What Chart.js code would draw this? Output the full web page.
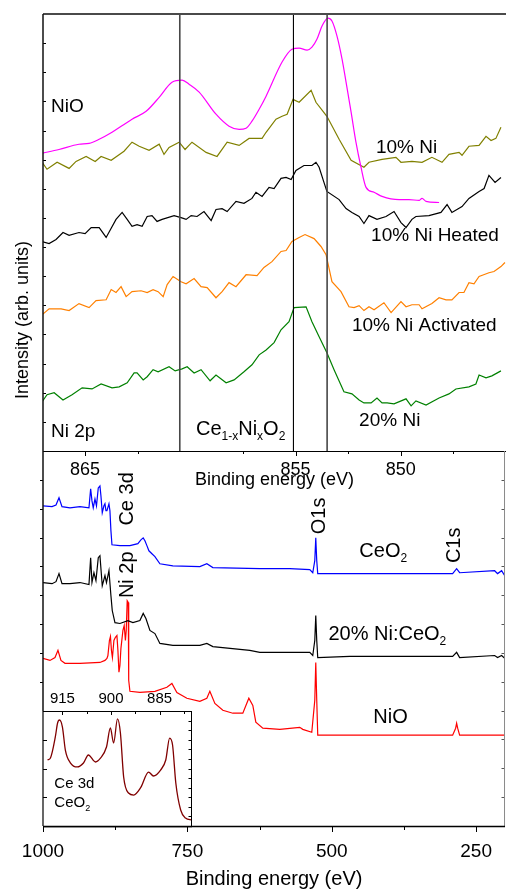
<!DOCTYPE html>
<html>
<head>
<meta charset="utf-8">
<title>Ni 2p and survey XPS spectra</title>
<script src="https://cdn.jsdelivr.net/npm/chart.js@4.4.1/dist/chart.umd.min.js"></script>
<style>
  html, body { margin: 0; padding: 0; background: #fff; overflow: hidden; }
  #wrap { position: relative; width: 506px; height: 892px; }
  canvas { position: absolute; left: 0; }
  #ni2p { top: 0; }
  #survey { top: 440px; }
  #inset { top: 680px; }
</style>
</head>
<body>
<div id="wrap">
  <canvas id="ni2p" width="506" height="500"></canvas>
  <canvas id="survey" width="506" height="452"></canvas>
  <canvas id="inset" width="200" height="150"></canvas>
</div>
<script>
// ---------- Ni 2p high-resolution spectra (binding energy in eV, intensity in arb. units, stacked) ----------
const nioBE = [867.04, 866.24, 865.29, 864.81, 864.33, 863.72, 863.15, 862.77, 862.10, 861.48, 860.87, 860.39, 860.06, 859.58, 858.78, 858.16, 857.68, 857.35, 857.07, 856.73, 856.40, 855.64, 855.17, 854.83, 854.45, 854.22, 853.98, 853.74, 853.46, 853.27, 853.03, 852.79, 852.60, 852.36, 852.13, 851.89, 851.65, 851.27, 850.89, 850.08, 849.61, 849.13, 848.99, 848.80, 848.18];
const nioI = [10.22, 10.35, 10.53, 10.56, 10.70, 10.94, 11.21, 11.39, 11.66, 12.14, 12.66, 12.73, 12.59, 12.32, 11.56, 11.15, 11.04, 11.08, 11.32, 11.73, 12.18, 13.35, 13.79, 13.83, 13.76, 13.86, 14.14, 14.59, 14.86, 14.76, 14.24, 13.45, 12.66, 11.63, 10.60, 9.74, 9.05, 8.88, 8.74, 8.63, 8.63, 8.60, 8.67, 8.57, 8.53];

const ni10BE = [867.04, 866.81, 866.33, 865.76, 865.43, 864.95, 864.52, 864.24, 863.76, 863.15, 862.77, 862.43, 861.96, 861.48, 861.25, 861.01, 860.53, 860.25, 859.92, 859.25, 858.73, 858.25, 857.68, 857.21, 856.59, 856.40, 855.93, 855.64, 855.40, 855.12, 854.83, 854.26, 854.03, 853.51, 852.93, 852.36, 851.75, 851.51, 850.89, 850.23, 849.99, 849.47, 848.99, 848.52, 848.04, 847.71, 847.23, 847.09, 846.76, 846.28, 845.95, 845.71, 845.48, 845.24];
const ni10I = [9.91, 9.67, 9.91, 9.70, 9.94, 10.11, 9.94, 10.11, 9.98, 10.29, 10.60, 10.46, 10.32, 10.53, 10.18, 10.42, 10.60, 10.35, 10.60, 10.25, 10.11, 10.60, 10.49, 10.73, 10.73, 10.94, 11.39, 11.49, 11.56, 12.07, 11.97, 12.38, 11.97, 11.49, 10.70, 9.98, 9.74, 9.91, 10.01, 10.08, 9.91, 9.94, 9.91, 10.08, 9.91, 10.18, 10.25, 10.15, 10.46, 10.49, 10.80, 10.66, 10.73, 11.11];

const ni10HeatBE = [867.04, 866.71, 866.38, 866.05, 865.76, 865.29, 865.00, 864.71, 864.33, 864.00, 863.53, 863.24, 863.00, 862.77, 862.53, 862.29, 862.05, 861.82, 861.58, 861.34, 860.77, 860.44, 860.20, 859.96, 859.68, 859.35, 859.01, 858.78, 858.49, 858.25, 857.83, 857.45, 857.07, 856.88, 856.59, 856.26, 856.02, 855.69, 855.45, 855.21, 854.98, 854.60, 854.22, 854.03, 853.88, 853.65, 853.51, 852.93, 852.60, 852.32, 851.98, 851.75, 851.51, 851.13, 850.70, 850.32, 849.99, 849.75, 849.47, 849.28, 848.66, 848.09, 847.80, 847.57, 847.09, 846.76, 846.28, 846.04, 845.81, 845.52, 845.24];
const ni10HeatI = [7.19, 7.12, 7.26, 7.50, 7.40, 7.50, 7.46, 7.67, 7.67, 7.33, 7.95, 8.19, 7.95, 7.71, 7.77, 7.71, 8.05, 8.08, 7.88, 7.95, 8.08, 8.01, 7.95, 8.08, 8.05, 8.22, 7.91, 8.29, 8.32, 8.22, 8.57, 8.50, 8.67, 8.88, 8.74, 9.05, 9.01, 9.36, 9.39, 9.32, 9.63, 9.80, 9.80, 9.91, 9.74, 9.22, 8.91, 8.63, 8.32, 8.19, 8.05, 7.81, 8.08, 7.95, 8.05, 8.22, 7.84, 7.67, 7.95, 8.05, 8.08, 8.19, 8.46, 8.19, 8.39, 8.67, 8.91, 9.01, 9.46, 9.22, 9.39];

const ni10ActBE = [867.04, 866.71, 866.14, 865.76, 865.29, 864.81, 864.48, 864.00, 863.76, 863.53, 863.29, 863.05, 862.77, 862.34, 862.05, 861.77, 861.53, 861.29, 861.10, 860.82, 860.44, 860.20, 859.82, 859.49, 859.20, 858.78, 858.49, 858.16, 857.83, 857.35, 856.83, 856.50, 856.12, 855.69, 855.45, 855.17, 854.83, 854.55, 854.12, 853.79, 853.55, 853.27, 852.84, 852.46, 852.22, 851.98, 851.75, 851.51, 851.27, 850.80, 850.46, 849.99, 849.75, 849.47, 849.13, 848.99, 848.52, 848.18, 847.85, 847.57, 847.23, 847.00, 846.76, 846.52, 846.28, 845.81, 845.57, 845.24, 845.05];
const ni10ActI = [4.68, 4.88, 4.88, 4.82, 5.06, 4.92, 5.16, 5.19, 5.54, 5.44, 5.64, 5.30, 5.47, 5.50, 5.44, 5.54, 5.47, 5.30, 5.71, 5.99, 5.81, 5.74, 5.92, 5.64, 5.61, 5.26, 5.47, 5.78, 5.64, 6.05, 6.02, 6.30, 6.50, 6.85, 6.88, 7.19, 7.33, 7.43, 7.29, 7.02, 6.74, 5.81, 5.47, 4.95, 4.92, 4.99, 4.82, 4.95, 4.85, 5.09, 4.75, 5.13, 4.95, 5.02, 5.02, 4.88, 5.06, 5.26, 5.19, 5.19, 5.44, 5.44, 5.78, 5.74, 5.99, 6.12, 6.16, 6.33, 6.47];

const ni20BE = [867.04, 866.81, 866.47, 866.05, 865.62, 865.14, 864.67, 864.24, 863.72, 863.38, 863.00, 862.67, 862.53, 862.24, 862.05, 861.77, 861.53, 861.01, 860.72, 860.39, 860.15, 859.82, 859.49, 859.06, 858.78, 858.30, 857.92, 857.45, 857.07, 856.73, 856.40, 856.02, 855.69, 855.31, 855.07, 854.50, 854.22, 853.88, 853.51, 853.17, 852.70, 852.32, 851.98, 851.75, 851.41, 851.13, 850.89, 850.65, 850.32, 849.75, 849.51, 849.28, 848.80, 848.18, 847.71, 847.38, 846.76, 846.43, 846.28, 845.95, 845.67, 845.24];
const ni20I = [1.69, 1.93, 2.00, 1.75, 1.93, 2.17, 2.13, 2.30, 2.17, 2.20, 2.34, 2.68, 2.68, 2.44, 2.55, 2.79, 2.72, 2.89, 2.75, 2.82, 2.89, 2.68, 2.79, 2.41, 2.61, 2.34, 2.44, 2.72, 2.96, 3.30, 3.47, 3.72, 4.16, 4.44, 4.92, 4.95, 4.44, 3.92, 3.37, 2.79, 2.03, 1.96, 1.75, 1.65, 1.65, 1.82, 1.65, 1.65, 1.62, 1.79, 1.55, 1.72, 1.58, 1.82, 1.96, 2.13, 2.20, 2.30, 2.61, 2.51, 2.58, 2.75];

// reference binding energies marked across the Ni 2p panel
const refLinesBE = [860.5, 855.1, 853.5];

// ---------- survey spectra ----------
const ceo2BE = [1000, 984.4, 977.5, 972.3, 967.1, 953.3, 936.0, 920.4, 917.5, 915.2, 913.0, 910.0, 907.4, 904.3, 901.4, 899.7, 897.4, 894.5, 892.7, 891.0, 889.3, 885.8, 884.1, 882.4, 880.6, 866.8, 849.5, 835.7, 830.5, 826.5, 823.5, 820.1, 816.6, 811.4, 806.2, 797.6, 775.1, 728.4, 716.3, 705.9, 624.6, 572.7, 538.1, 532.9, 529.4, 527.7, 526.0, 524.3, 468.9, 382.4, 290.7, 283.8, 278.6, 218.0, 212.9, 205.9, 200.5];
const ceo2I = [11.10, 11.07, 11.13, 11.38, 11.07, 11.03, 11.07, 11.03, 11.69, 11.27, 11.03, 11.34, 11.10, 11.72, 11.79, 11.45, 10.86, 11.10, 11.17, 10.93, 10.93, 11.17, 10.93, 10.24, 9.75, 9.72, 9.72, 9.79, 9.92, 9.99, 9.89, 9.72, 9.54, 9.44, 9.34, 9.09, 9.02, 8.99, 9.09, 8.96, 8.92, 8.92, 8.89, 8.78, 9.20, 9.99, 9.20, 8.75, 8.75, 8.75, 8.75, 8.92, 8.78, 8.85, 8.75, 8.85, 8.68];

const niCeo2BE = [1000, 984.4, 977.5, 972.3, 967.1, 953.3, 936.0, 920.4, 917.5, 915.2, 911.8, 908.3, 904.3, 901.4, 897.4, 892.7, 890.1, 885.8, 882.4, 880.1, 875.4, 866.8, 853.0, 844.3, 832.2, 826.5, 821.8, 814.9, 806.2, 797.6, 775.1, 728.4, 716.3, 705.9, 641.9, 624.6, 538.1, 532.9, 529.4, 527.7, 526.0, 524.3, 468.9, 382.4, 290.7, 283.8, 278.6, 218.0, 212.9, 205.9, 200.5];
const niCeo2I = [8.44, 8.40, 8.47, 8.75, 8.40, 8.40, 8.44, 8.37, 9.30, 8.44, 8.78, 8.51, 9.30, 9.37, 8.33, 8.68, 8.44, 8.85, 7.99, 7.47, 7.05, 7.02, 7.12, 7.05, 7.12, 7.37, 7.19, 6.78, 6.67, 6.33, 6.26, 6.26, 6.33, 6.22, 6.09, 6.02, 6.02, 5.91, 6.43, 7.30, 6.43, 5.84, 5.88, 5.88, 5.88, 6.02, 5.84, 5.91, 5.84, 5.91, 5.81];

const nioSurvBE = [1000, 987.9, 979.2, 974.1, 968.9, 961.9, 936.0, 901.4, 892.7, 889.3, 887.6, 885.0, 883.2, 881.5, 879.8, 877.2, 874.6, 872.0, 870.3, 868.5, 866.8, 865.1, 861.6, 859.4, 857.3, 855.9, 854.2, 852.4, 851.6, 849.5, 832.2, 806.2, 785.5, 776.8, 768.2, 750.9, 728.4, 716.3, 711.1, 702.4, 688.6, 671.3, 654.0, 643.6, 636.7, 631.5, 619.4, 589.9, 555.4, 550.2, 534.6, 529.4, 527.7, 526.0, 524.3, 468.9, 382.4, 290.7, 285.5, 283.8, 282.0, 278.6, 200.5];
const nioSurvI = [5.81, 5.74, 5.84, 6.09, 5.74, 5.64, 5.64, 5.67, 5.74, 5.81, 5.91, 6.43, 6.57, 6.09, 5.84, 6.43, 6.54, 6.60, 6.09, 5.33, 5.57, 6.15, 6.78, 6.95, 6.43, 6.78, 7.81, 7.75, 5.05, 4.67, 4.63, 4.67, 4.81, 4.94, 4.63, 4.43, 4.32, 4.43, 4.67, 4.25, 4.01, 3.91, 3.91, 4.43, 4.18, 3.60, 3.39, 3.35, 3.42, 3.35, 3.25, 4.36, 5.67, 4.36, 3.15, 3.15, 3.15, 3.15, 3.39, 3.56, 3.39, 3.15, 3.15];

// ---------- Ce 3d of CeO2 (inset) ----------
const ce3dBE = [919.6, 918.7, 917.2, 916.5, 915.9, 915.0, 914.1, 912.5, 910.4, 908.5, 907.0, 904.8, 903.2, 901.4, 900.2, 899.2, 898.0, 897.1, 896.1, 894.6, 893.0, 890.9, 888.4, 886.9, 884.7, 883.1, 881.9, 881.0, 880.0, 878.5, 877.0, 875.0];
const ce3dI = [6.89, 7.10, 9.29, 10.75, 11.06, 10.33, 7.93, 6.57, 6.16, 6.57, 7.41, 6.68, 7.10, 8.24, 10.23, 8.66, 11.17, 9.70, 5.11, 3.44, 3.23, 3.97, 5.63, 5.22, 5.84, 6.89, 9.18, 8.45, 4.49, 1.67, 0.83, 0.63];

// ---------- tick values ----------
const ni2pTickLabels = [865, 855, 850];
const ni2pMinorTicks = [862.5, 857.5, 852.5, 847.5];
const ni2pYTicks = [1, 2, 3, 4, 5, 6, 7, 8, 9, 10, 11, 12, 13, 14];
const surveyTickLabels = [1000, 750, 500, 250];
const surveyMinorTicks = [875, 625, 375];
const surveyYTicks = [1, 2, 3, 4, 5, 6, 7, 8, 9, 10, 11, 12];
const insetTickLabels = [915, 900, 885];
const insetMinorTicks = [907.5, 892.5, 877.5];
const insetYTicks = [1, 2, 3, 4, 5, 6, 7, 8, 9, 10, 11];
const insetYMajor = [3, 6, 9];

// ---------- drawing helpers ----------
const FONT = '"Liberation Sans", Arial, Helvetica, sans-serif';
Chart.defaults.font.family = FONT;
Chart.defaults.color = '#000';

function xy(xs, ys) { return xs.map((v, i) => ({ x: v, y: ys[i] })); }

function series(label, xs, ys, color, extra) {
  return Object.assign({
    label, data: xy(xs, ys), borderColor: color, backgroundColor: color,
    borderWidth: 1.2, pointRadius: 0, fill: false, tension: 0
  }, extra || {});
}

function seg(ctx, x1, y1, x2, y2) {
  ctx.beginPath(); ctx.moveTo(x1, y1); ctx.lineTo(x2, y2); ctx.stroke();
}

// text made of runs, some of them subscripts
function drawRuns(ctx, runs, x, y, size, align) {
  const sizeOf = r => (r.sub ? size * 0.6 : size);
  let total = 0;
  runs.forEach(r => { ctx.font = sizeOf(r) + 'px ' + FONT; total += ctx.measureText(r.t).width; });
  let cx = align === 'center' ? x - total / 2 : x;
  ctx.textAlign = 'left';
  ctx.textBaseline = 'middle';
  runs.forEach(r => {
    ctx.font = sizeOf(r) + 'px ' + FONT;
    ctx.fillText(r.t, cx, y + (r.sub ? size * 0.34 : 0));
    cx += ctx.measureText(r.t).width;
  });
}

// frame, tick marks, reference lines and annotations for one panel
function makeDecor(cfg) {
  return {
    id: 'decor',
    beforeDraw(chart) {
      if (!cfg.fill) return;
      const { ctx, chartArea: a } = chart;
      const ext = cfg.fillLeft || 0;
      ctx.save();
      ctx.fillStyle = cfg.fill;
      ctx.fillRect(a.left - ext, a.top, a.right - a.left + ext, a.bottom - a.top);
      ctx.restore();
    },
    afterDraw(chart) {
      const { ctx, chartArea: a, scales } = chart;
      const sx = scales.x, sy = scales.y;
      ctx.save();
      ctx.lineCap = 'butt';
      (cfg.refLines || []).forEach(r => {
        const px = sx.getPixelForValue(r.value);
        ctx.strokeStyle = r.color; ctx.lineWidth = r.width;
        seg(ctx, px, a.top, px, a.bottom);
      });
      (cfg.xTicks || []).forEach(t => {
        const y0 = t.side === 'top' ? a.top : a.bottom;
        const sgn = (t.side === 'top' ? -1 : 1) * (t.dir === 'in' ? -1 : 1);
        ctx.strokeStyle = t.color || '#000'; ctx.lineWidth = t.width || 1;
        t.values.forEach(v => {
          const px = Math.round(sx.getPixelForValue(v)) + 0.5;
          seg(ctx, px, y0, px, y0 + sgn * t.len);
        });
      });
      (cfg.yTicks || []).forEach(t => {
        const x0 = t.side === 'right' ? a.right - 0.5 : a.left;
        const sgn = (t.side === 'right' ? 1 : -1) * (t.dir === 'in' ? -1 : 1);
        ctx.strokeStyle = t.color || '#000'; ctx.lineWidth = t.width || 1;
        t.values.forEach(v => {
          const py = Math.round(sy.getPixelForValue(v)) + 0.5;
          seg(ctx, x0, py, x0 + sgn * t.len, py);
        });
      });
      (cfg.borders || []).forEach(b => {
        ctx.strokeStyle = b.color; ctx.lineWidth = b.width;
        const o = b.offset || 0;
        if (b.side === 'top') seg(ctx, a.left, a.top + o, a.right, a.top + o);
        if (b.side === 'bottom') seg(ctx, a.left, a.bottom + o, a.right, a.bottom + o);
        if (b.side === 'left') seg(ctx, a.left + o, a.top, a.left + o, a.bottom);
        if (b.side === 'right') seg(ctx, a.right + o, a.top, a.right + o, a.bottom);
      });
      ctx.fillStyle = '#000';
      (cfg.texts || []).forEach(t => {
        const px = t.px !== undefined ? t.px : sx.getPixelForValue(t.x);
        const py = t.py !== undefined ? t.py : sy.getPixelForValue(t.y);
        if (t.rot) {
          ctx.save();
          ctx.translate(px, py);
          ctx.rotate(-Math.PI / 2);
          drawRuns(ctx, t.runs, 0, 0, t.size, 'center');
          ctx.restore();
        } else {
          drawRuns(ctx, t.runs, px, py, t.size, 'left');
        }
      });
      ctx.restore();
    }
  };
}

function xAxis(min, max, labels, extra) {
  return Object.assign({
    type: 'linear', reverse: true, min, max,
    grid: { display: false, drawTicks: false },
    border: { display: false },
    afterBuildTicks: s => { s.ticks = labels.map(v => ({ value: v })); }
  }, extra);
}

const common = {
  responsive: false, animation: false, events: [],
  plugins: { legend: { display: false }, tooltip: { enabled: false } }
};

// ---------- Ni 2p panel ----------
new Chart(document.getElementById('ni2p'), {
  type: 'line',
  data: {
    datasets: [
      series('NiO', nioBE, nioI, '#FF00FF', { cubicInterpolationMode: 'monotone' }),
      series('10% Ni', ni10BE, ni10I, '#808000'),
      series('10% Ni Heated', ni10HeatBE, ni10HeatI, '#000000'),
      series('10% Ni Activated', ni10ActBE, ni10ActI, '#FF8000'),
      series('20% Ni', ni20BE, ni20I, '#008000')
    ]
  },
  options: Object.assign({}, common, {
    layout: { padding: { top: 14, left: 43, right: 0, bottom: 0 } },
    scales: {
      x: xAxis(845, 867, ni2pTickLabels, {
        afterFit: s => { s.height = 49; },
        ticks: { autoSkip: false, maxRotation: 0, padding: 8, font: { size: 18 }, callback: v => String(v) },
        title: { display: true, text: 'Binding energy (eV)', font: { size: 18 }, padding: { top: 0, bottom: 9 } }
      }),
      y: { type: 'linear', display: false, min: 0, max: 15 }
    }
  }),
  plugins: [makeDecor({
    refLines: [
      { value: refLinesBE[0], color: '#474747', width: 1.6 },
      { value: refLinesBE[1], color: '#000000', width: 1.1 },
      { value: refLinesBE[2], color: '#474747', width: 1.6 }
    ],
    xTicks: [
      { side: 'bottom', dir: 'out', len: 5, values: ni2pTickLabels },
      { side: 'bottom', dir: 'out', len: 3, values: ni2pMinorTicks }
    ],
    yTicks: [{ side: 'left', dir: 'in', len: 3, values: ni2pYTicks }],
    borders: [
      { side: 'top', color: '#4a4a4a', width: 2 },
      { side: 'left', color: '#111111', width: 1.5 },
      { side: 'bottom', color: '#000000', width: 1.2, offset: 0.5 }
    ],
    texts: [
      { runs: [{ t: 'NiO' }], x: 866.62, y: 11.80, size: 19 },
      { runs: [{ t: '10% Ni' }], x: 851.18, y: 10.42, size: 19 },
      { runs: [{ t: '10% Ni Heated' }], x: 851.41, y: 7.40, size: 19 },
      { runs: [{ t: '10% Ni Activated' }], x: 852.32, y: 4.30, size: 19 },
      { runs: [{ t: '20% Ni' }], x: 851.98, y: 1.03, size: 19 },
      { runs: [{ t: 'Ni 2p' }], x: 866.62, y: 0.67, size: 19 },
      { runs: [{ t: 'Ce' }, { t: '1-x', sub: true }, { t: 'Ni' }, { t: 'x', sub: true }, { t: 'O' }, { t: '2', sub: true }], x: 859.73, y: 0.74, size: 20 },
      { runs: [{ t: 'Intensity (arb. units)' }], px: 23, py: 320, size: 18, rot: true }
    ]
  })]
});

// ---------- survey panel ----------
new Chart(document.getElementById('survey'), {
  type: 'line',
  data: {
    datasets: [
      series('CeO2', ceo2BE, ceo2I, '#0000FF'),
      series('20% Ni:CeO2', niCeo2BE, niCeo2I, '#000000'),
      series('NiO', nioSurvBE, nioSurvI, '#FF0000')
    ]
  },
  options: Object.assign({}, common, {
    layout: { padding: { top: 11, left: 43, right: 0, bottom: 0 } },
    scales: {
      x: xAxis(200, 1000, surveyTickLabels, {
        afterFit: s => { s.height = 66; },
        ticks: { autoSkip: false, maxRotation: 0, padding: 14, font: { size: 19 }, callback: v => String(v) },
        title: { display: true, text: 'Binding energy (eV)', font: { size: 20 }, padding: { top: 0, bottom: 1 } }
      }),
      y: { type: 'linear', display: false, min: 0, max: 13 }
    }
  }),
  plugins: [makeDecor({
    xTicks: [
      { side: 'bottom', dir: 'out', len: 6, values: surveyTickLabels },
      { side: 'bottom', dir: 'out', len: 4, values: surveyMinorTicks }
    ],
    yTicks: [
      { side: 'left', dir: 'out', len: 3, values: surveyYTicks },
      { side: 'right', dir: 'in', len: 3, values: surveyYTicks, color: '#555' }
    ],
    borders: [
      { side: 'left', color: '#111111', width: 1.5 },
      { side: 'right', color: '#8a8a8a', width: 1, offset: -0.5 },
      { side: 'bottom', color: '#000000', width: 1.3, offset: 0.5 }
    ],
    texts: [
      { runs: [{ t: 'Ce 3d' }], x: 853.1, y: 11.34, size: 20, rot: true },
      { runs: [{ t: 'Ni 2p' }], x: 853.1, y: 8.71, size: 20, rot: true },
      { runs: [{ t: 'O1s' }], x: 521.3, y: 10.75, size: 20, rot: true },
      { runs: [{ t: 'C1s' }], x: 288.1, y: 9.73, size: 20, rot: true },
      { runs: [{ t: 'CeO' }, { t: '2', sub: true }], x: 452.2, y: 9.51, size: 20 },
      { runs: [{ t: '20% Ni:CeO' }, { t: '2', sub: true }], x: 505.8, y: 6.64, size: 20 },
      { runs: [{ t: 'NiO' }], x: 428.0, y: 3.77, size: 20 }
    ]
  })]
});

// ---------- Ce 3d inset ----------
new Chart(document.getElementById('inset'), {
  type: 'line',
  data: {
    datasets: [
      series('Ce 3d CeO2', ce3dBE, ce3dI, '#800000', { borderWidth: 1.3, cubicInterpolationMode: 'monotone' })
    ]
  },
  options: Object.assign({}, common, {
    layout: { padding: { top: 0, left: 43, right: 8, bottom: 4 } },
    scales: {
      x: xAxis(875, 921, insetTickLabels, {
        position: 'top',
        afterFit: s => { s.height = 31; },
        ticks: { autoSkip: false, maxRotation: 0, padding: 3, font: { size: 15 }, callback: v => String(v) }
      }),
      y: { type: 'linear', display: false, min: 0, max: 12 }
    }
  }),
  plugins: [makeDecor({
    fill: '#ffffff', fillLeft: 8,
    xTicks: [
      { side: 'top', dir: 'in', len: 4, values: insetTickLabels },
      { side: 'top', dir: 'in', len: 3, values: insetMinorTicks }
    ],
    yTicks: [
      { side: 'right', dir: 'in', len: 3, values: insetYTicks },
      { side: 'left', dir: 'in', len: 4, values: insetYMajor }
    ],
    borders: [
      { side: 'top', color: '#000', width: 1, offset: 0.5 },
      { side: 'left', color: '#000', width: 1.2 },
      { side: 'right', color: '#000', width: 1, offset: -0.5 },
      { side: 'bottom', color: '#000', width: 1.3, offset: 0.5 }
    ],
    texts: [
      { runs: [{ t: 'Ce 3d' }], x: 917.5, y: 4.38, size: 15 },
      { runs: [{ t: 'CeO' }, { t: '2', sub: true }], x: 917.5, y: 2.40, size: 15 }
    ]
  })]
});
</script>
</body>
</html>
